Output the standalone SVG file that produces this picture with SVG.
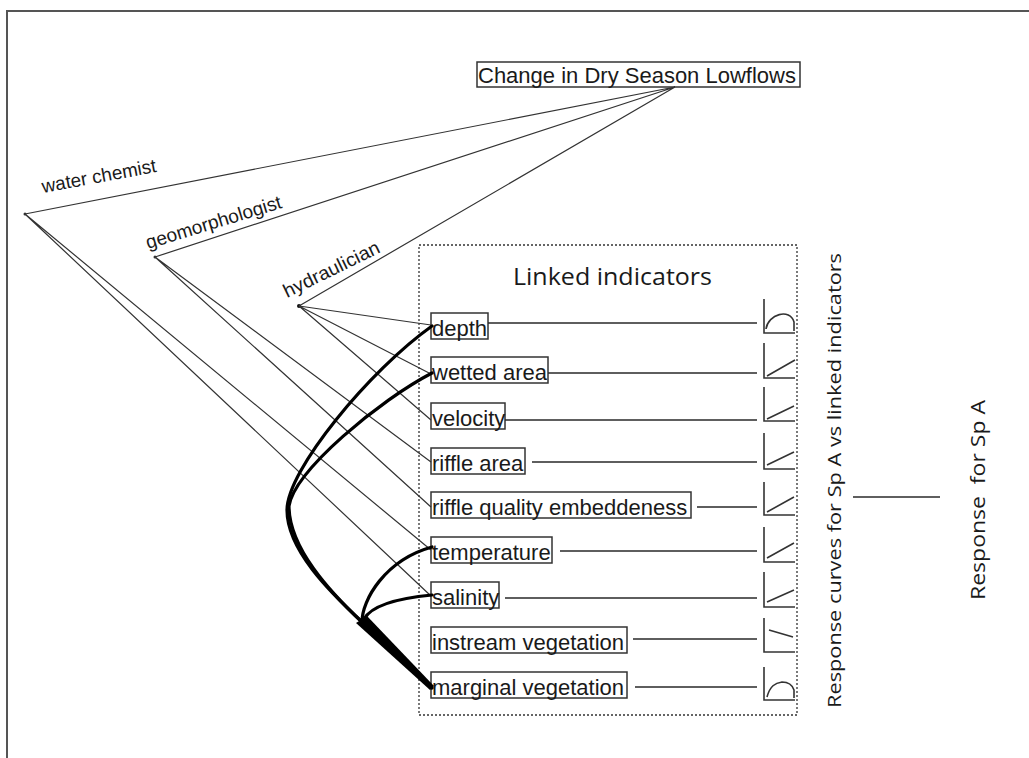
<svg xmlns="http://www.w3.org/2000/svg" width="1029" height="758" viewBox="0 0 1029 758">
<style>
.frame{fill:none;stroke:#555;stroke-width:2}
.box{fill:none;stroke:#333;stroke-width:1.5}
.lbl{font-family:"Liberation Sans",Arial,sans-serif;font-size:22px;fill:#1a1a1a}
.exp{font-family:"Liberation Sans",Arial,sans-serif;font-size:19px;fill:#1a1a1a}
.cal{font-family:"Open Sans","Liberation Sans",sans-serif;fill:#1a1a1a}
.thin{fill:none;stroke:#333;stroke-width:1.2}
.hl{fill:none;stroke:#2a2a2a;stroke-width:1.6}
.thick{fill:none;stroke:#000;stroke-width:3.2;stroke-linecap:round;stroke-linejoin:round}
.icon{fill:none;stroke:#333;stroke-width:1.6}
.dash{fill:none;stroke:#333;stroke-width:1.3;stroke-dasharray:2 2}
</style>
<rect width="1029" height="758" fill="#fff"/>
<path class="frame" d="M6,11 H1029 M7,11 V758"/>

<g id="change-node">
<rect class="box" x="477" y="62" width="323" height="25"/>
<text class="lbl" x="478" y="83">Change in Dry Season Lowflows</text>
</g>

<g id="water-chemist">
<circle cx="25" cy="214" r="1.5" fill="#333"/>
<text class="exp" transform="translate(43,193) rotate(-10.5)" textLength="116" lengthAdjust="spacingAndGlyphs">water chemist</text>
</g>
<g id="geomorphologist">
<circle cx="155" cy="257" r="1.5" fill="#333"/>
<text class="exp" transform="translate(148,249) rotate(-17)" textLength="141" lengthAdjust="spacingAndGlyphs">geomorphologist</text>
</g>
<g id="hydraulician">
<circle cx="299" cy="306" r="2" fill="#111"/>
<text class="exp" transform="translate(287,298) rotate(-26)" textLength="105" lengthAdjust="spacingAndGlyphs">hydraulician</text>
</g>

<g id="linked-indicators">
<rect class="dash" x="419" y="245" width="378" height="470"/>
<text class="cal" x="513" y="285" font-size="24" textLength="199" lengthAdjust="spacingAndGlyphs">Linked indicators</text>
</g>

<g id="ind-depth">
<rect class="box" x="431" y="313" width="57" height="26"/>
<text class="lbl" x="432" y="336">depth</text>
<path class="icon" d="M764,299 V333 H795 M766,329 C768,314 790,308 794,322 V331"/>
</g>
<g id="ind-wetted-area">
<rect class="box" x="431" y="357" width="117" height="26"/>
<text class="lbl" x="432" y="380">wetted area</text>
<path class="icon" d="M764,343 V378 H795 M767,376 L795,360"/>
</g>
<g id="ind-velocity">
<rect class="box" x="431" y="403" width="74" height="26"/>
<text class="lbl" x="432" y="426">velocity</text>
<path class="icon" d="M764,387 V421 H795 M767,419 L794,406"/>
</g>
<g id="ind-riffle-area">
<rect class="box" x="431" y="448" width="94" height="26"/>
<text class="lbl" x="432" y="471">riffle area</text>
<path class="icon" d="M764,433 V469 H795 M767,465 L794,452"/>
</g>
<g id="ind-riffle-quality">
<rect class="box" x="431" y="492" width="260" height="26"/>
<text class="lbl" x="432" y="515">riffle quality embeddeness</text>
<path class="icon" d="M764,482 V515 H795 M767,512 L794,497"/>
</g>
<g id="ind-temperature">
<rect class="box" x="431" y="537" width="121" height="26"/>
<text class="lbl" x="432" y="560">temperature</text>
<path class="icon" d="M764,527 V562 H795 M767,558 L794,543"/>
</g>
<g id="ind-salinity">
<rect class="box" x="431" y="582" width="68" height="26"/>
<text class="lbl" x="432" y="605">salinity</text>
<path class="icon" d="M764,572 V607 H795 M767,602 L794,590"/>
</g>
<g id="ind-instream-vegetation">
<rect class="box" x="431" y="627" width="196" height="26"/>
<text class="lbl" x="432" y="650">instream vegetation</text>
<path class="icon" d="M764,618 V652 H795 M769,630 L793,637"/>
</g>
<g id="ind-marginal-vegetation">
<rect class="box" x="431" y="672" width="196" height="26"/>
<text class="lbl" x="432" y="695">marginal vegetation</text>
<path class="icon" d="M764,667 V700 H795 M767,697 C770,686 775,683 782,682 C788,682 792,684 794,690 V698"/>
</g>

<g id="response-curves-label">
<text class="cal" transform="translate(841,708) rotate(-90)" font-size="19" textLength="455" lengthAdjust="spacingAndGlyphs">Response curves for Sp A vs linked indicators</text>
</g>
<g id="response-sp-a">
<text class="cal" transform="translate(985,600) rotate(-90)" font-size="20" textLength="200" lengthAdjust="spacingAndGlyphs" xml:space="preserve">Response  for Sp A</text>
</g>

<g id="connectors">
<path class="thin" d="M675,87 L25,214 M675,87 L155,257 M675,87 L299,306"/>
<path class="thin" d="M25,214 L431,550 M25,214 L431,596"/>
<path class="thin" d="M155,257 L431,462 M155,257 L431,507"/>
<path class="thin" d="M299,306 L431,325 M299,306 L431,374 M299,306 L431,420"/>
<path class="hl" d="M488,323 H757 M548,373 H757 M505,420 H757 M532,462 H757 M697,507 H757 M560,551 H757 M505,598 H757 M633,639 H757 M635,687 H757"/>
<path class="hl" d="M853,497 H940"/>
<path class="thick" d="M432,688 L362,622 C330,592 287,550 287,510 C287,470 370,370 432,326"/>
<path class="thick" d="M362,622 C330,592 289,548 289,506 C295,470 380,400 432,373"/>
<path class="thick" d="M362,622 C362,600 385,560 432,547"/>
<path class="thick" d="M364,619 C372,605 400,598 432,595"/>
<path d="M356,623 L367,616 L434,686 L430,690 Z" fill="#000"/>
</g>
</svg>
